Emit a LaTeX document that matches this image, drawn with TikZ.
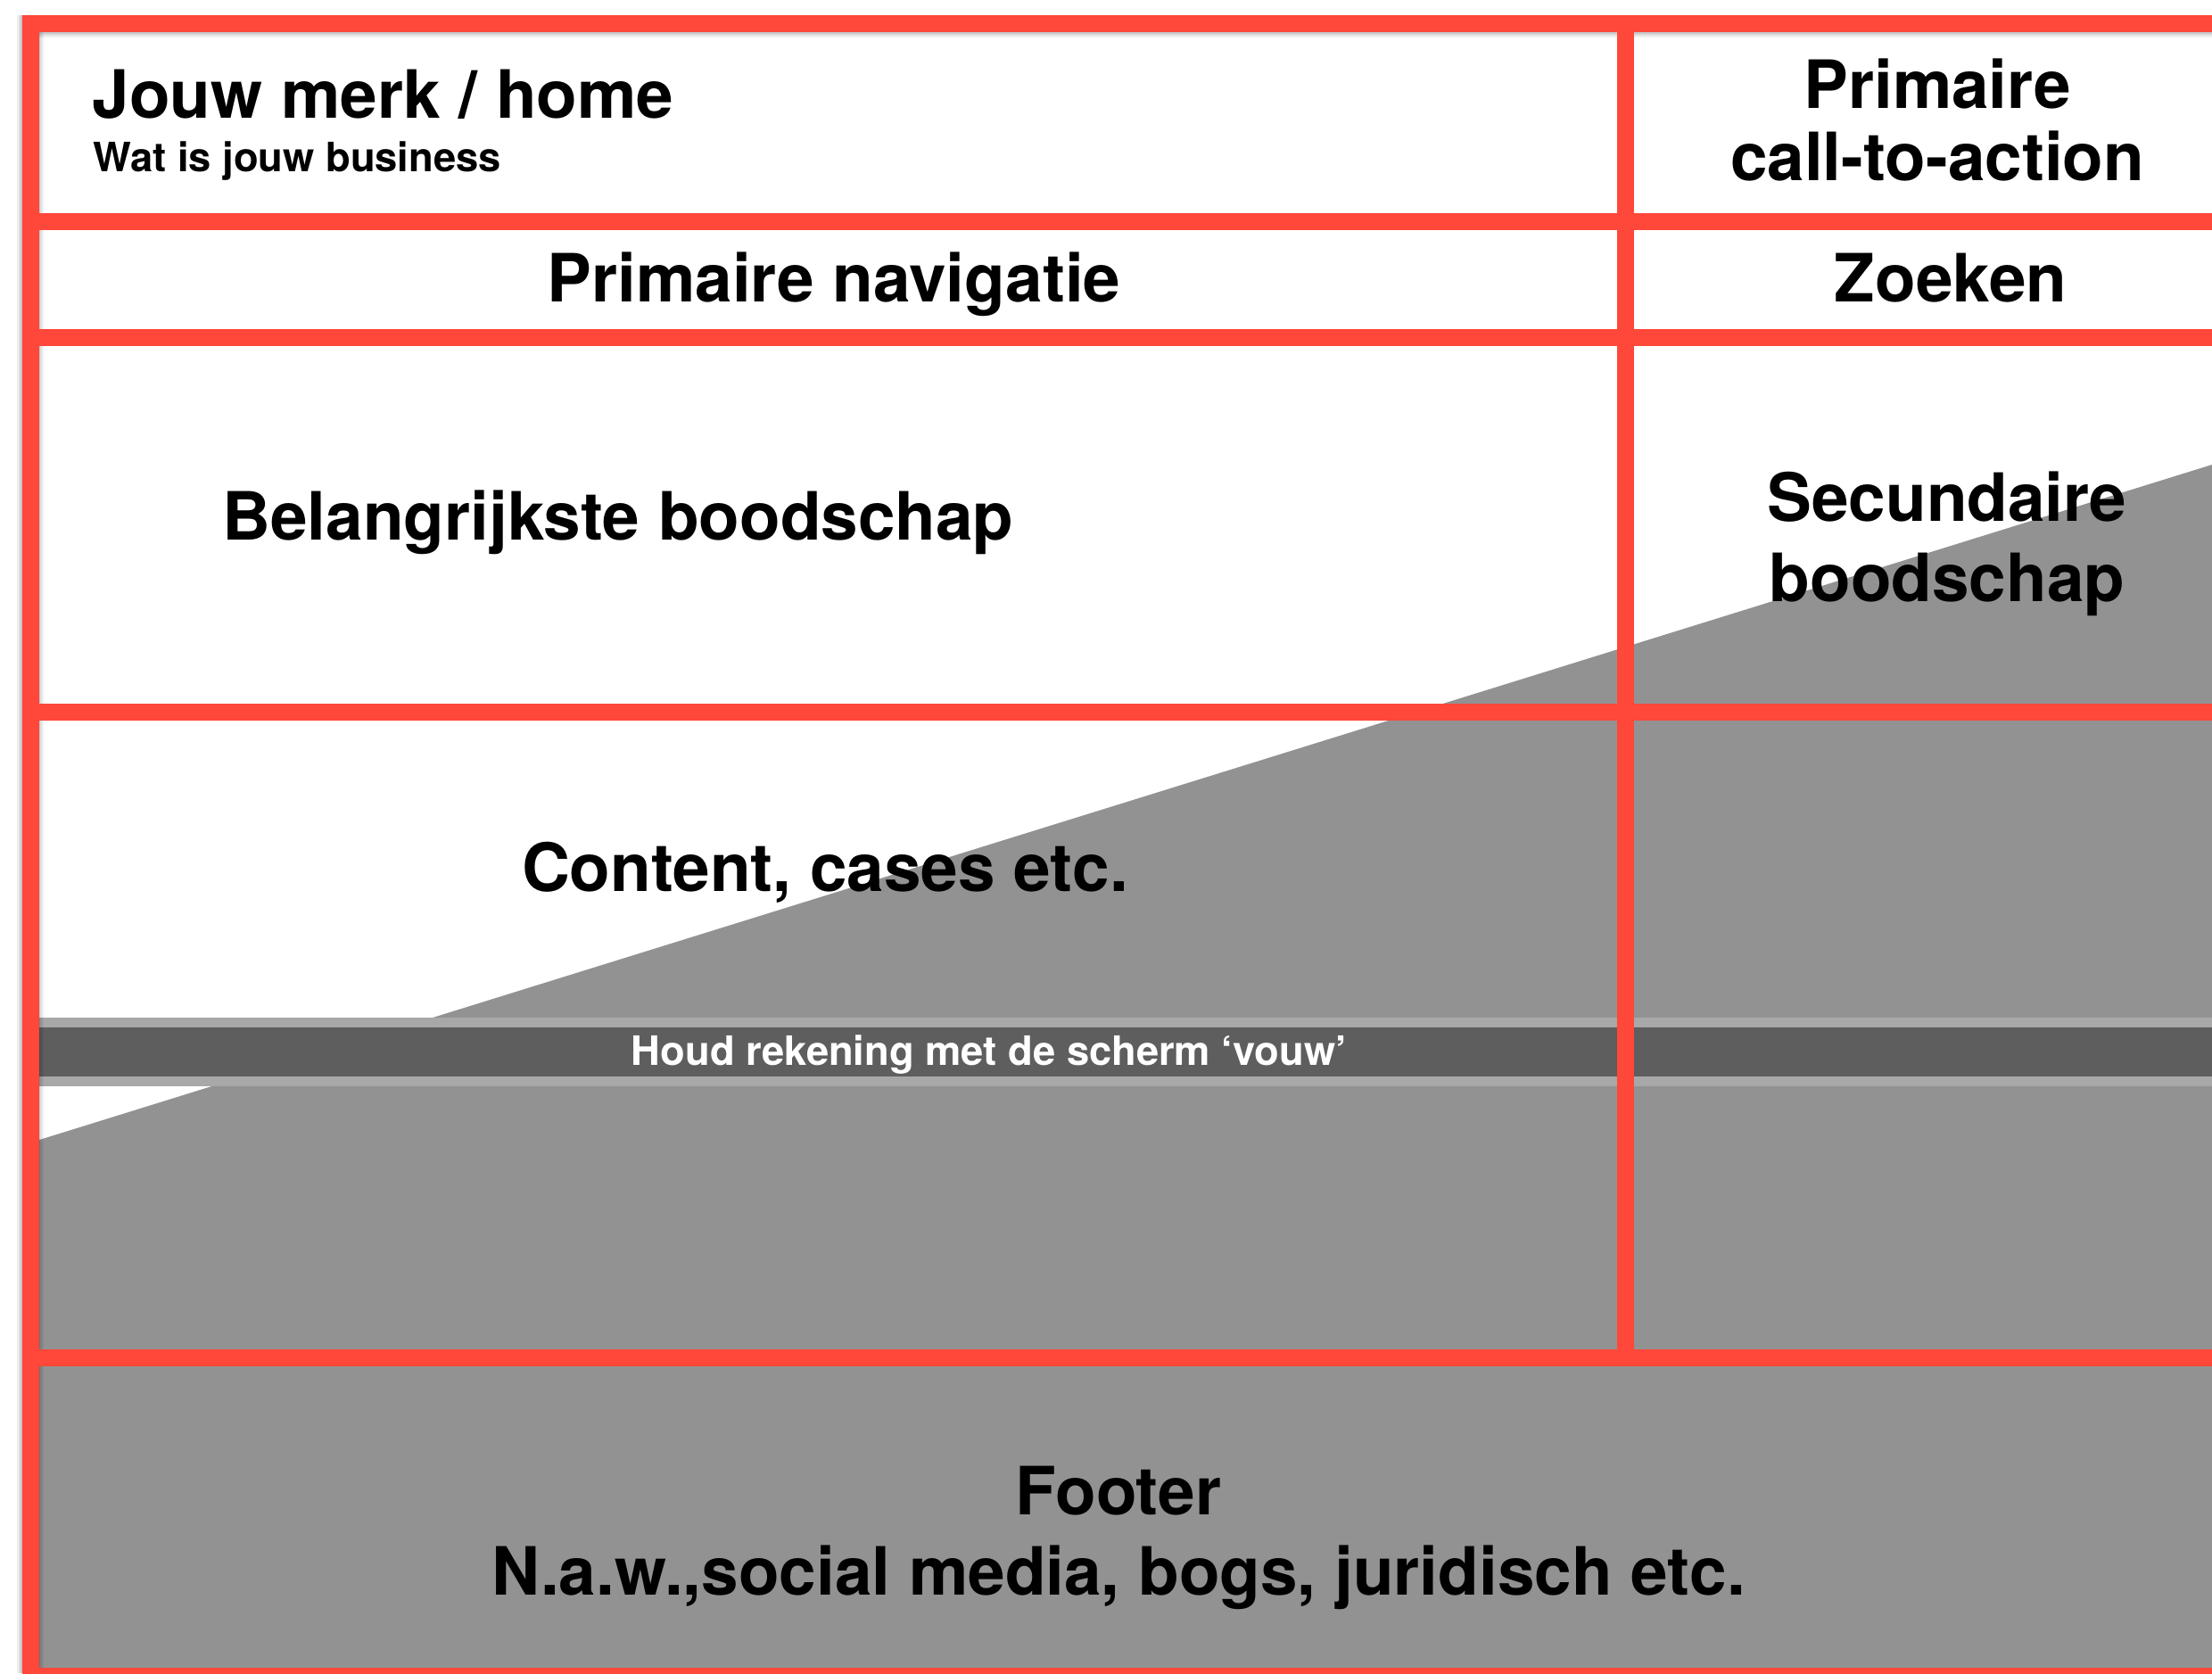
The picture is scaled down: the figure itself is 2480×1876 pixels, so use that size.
\documentclass[tikz,border=0pt]{standalone}
\usepackage{fontspec}
\setmainfont{TeX Gyre Heros}
\usepackage{tikz}
\usetikzlibrary{positioning}
\definecolor{wirered}{RGB}{255,71,58}
\definecolor{wedgegrey}{RGB}{146,146,146}
\definecolor{bandlight}{RGB}{168,168,168}
\definecolor{banddark}{RGB}{94,94,94}
\tikzset{
  redline/.style  = {draw=wirered, line width=1.9mm},
  basic/.style    = {inner sep=0pt, text=black},
  bigtext/.style  = {basic, align=center, font=\fontsize{21.25}{25.6}\selectfont\bfseries},
  smalltext/.style = {basic, font=\fontsize{12.9}{15}\selectfont\bfseries}
}

\begin{document}
\begin{tikzpicture}[x=0.1mm, y=-0.1mm]
\useasboundingbox (0,0) rectangle (2480,1876);
\clip (0,0) rectangle (2480,1876);
\fill[white] (0,0) rectangle (2480,1876);

% grey area below the slope
\fill[wedgegrey] (25,1284) -- (2480,521) -- (2480,1876) -- (25,1876) -- cycle;

% the fold of the screen
\fill[bandlight] (43,1141) rectangle (2480,1218);
\fill[banddark] (43,1152) rectangle (2480,1207);

% soft shadow along the frame
\foreach \d/\o in {0/0.22,2/0.13,4/0.06}{
  \fill[black, opacity=\o] (43+\d,36) rectangle (45+\d,1876);
  \fill[black, opacity=\o] (43,36+\d) rectangle (2480,38+\d);
  \fill[black, opacity=\o] (23-\d,17) rectangle (25-\d,1876);
}

% red frame, rows and the column
\draw[redline] (34,26.5) rectangle (2540,1879);
\foreach \y in {248.5,378.5,798.5,1522}
  \draw[redline] (43,\y) -- (2480,\y);
\draw[redline] (1822.5,36) -- (1822.5,1513);

% header row
\node[bigtext, anchor=base west] (brand) at (103,132) {Jouw merk / home};
\node[smalltext, anchor=base west] (tagline) at (104,192) {Wat is jouw business};
\node[bigtext, anchor=base, font=\fontsize{21.25}{22.8}\selectfont\bfseries] (cta) at (2172,202) {Primaire\\call-to-action};

% navigation row
\node[bigtext, anchor=base] (nav) at (935,338) {Primaire navigatie};
\node[bigtext, anchor=base] (search) at (2187,338) {Zoeken};

% messages and content
\node[bigtext, anchor=base] (main) at (693,605) {Belangrijkste boodschap};
\node[bigtext, anchor=base] (second) at (2183,674) {Secundaire\\boodschap};
\node[bigtext, anchor=base] (content) at (925,999) {Content, cases etc.};
\node[smalltext, anchor=base, text=white] (fold) at (1109,1194) {Houd rekening met de scherm ‘vouw’};

% footer
\node[bigtext, anchor=base] (footer) at (1254,1788) {Footer\\N.a.w.,social media, bogs, juridisch etc.};
\end{tikzpicture}
\end{document}
